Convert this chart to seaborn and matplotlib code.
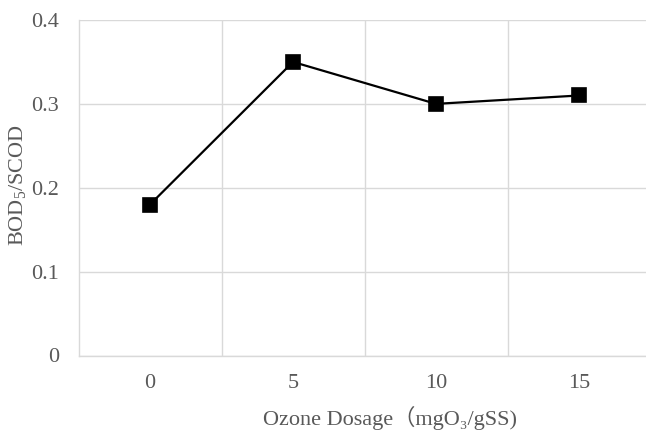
import matplotlib
matplotlib.use("Agg")
import matplotlib.pyplot as plt
import seaborn as sns
import pandas as pd
from matplotlib.ticker import FixedLocator

categories = ["0", "5", "10", "15"]
values = [0.18, 0.35, 0.30, 0.31]
yticks = [0, 0.1, 0.2, 0.3, 0.4]
ytick_labels = ["0", "0.1", "0.2", "0.3", "0.4"]
xlabel = "Ozone Dosage（mgO₃/gSS)"
ylabel = r"BOD$_5$/SCOD"

sns.set_theme(style="white")
fonts = ["Liberation Serif", "DejaVu Serif", "Noto Sans CJK SC"]
plt.rcParams["font.family"] = fonts
plt.rcParams["mathtext.default"] = "regular"

text_color = "#595959"
grid_color = "#d9d9d9"

df = pd.DataFrame({"dose": categories, "ratio": values})

fig = plt.figure(figsize=(6.46, 4.34), dpi=100)
ax = fig.add_axes([78.5 / 646, 1 - 355.5 / 434, 572 / 646, 335.5 / 434])

sns.pointplot(data=df, x="dose", y="ratio", order=categories, color="black",
              markers="s", markersize=9.5, linewidth=1.6, ax=ax, errorbar=None)

ax.set_xlim(-0.5, 3.5)
ax.set_ylim(0, 0.4)
ax.set_yticks(yticks)
ax.set_yticklabels(ytick_labels)
ax.xaxis.set_minor_locator(FixedLocator([0.5, 1.5, 2.5]))
ax.grid(False)
ax.yaxis.grid(True, color=grid_color, linewidth=1.0)
ax.xaxis.grid(True, which="minor", color=grid_color, linewidth=1.0)
for item in ax.get_lines():
    item.set_zorder(5)
ax.set_axisbelow(True)

for side in ["top", "right"]:
    ax.spines[side].set_visible(False)
for side in ["left", "bottom"]:
    ax.spines[side].set_color(grid_color)
    ax.spines[side].set_linewidth(1.0)

ax.tick_params(axis="both", which="both", length=0, labelsize=16, colors=text_color)
ax.tick_params(axis="y", pad=14)
ax.tick_params(axis="x", pad=13)
ax.set_xlabel("")
ax.set_ylabel("")

fig.text(390 / 646, 1 - 418 / 434, xlabel, ha="center", va="center",
         fontsize=16, color=text_color, family=fonts)
fig.text(18 / 646, 1 - 184.5 / 434, ylabel, ha="center", va="center",
         rotation=90, fontsize=16, color=text_color, family="Liberation Serif")

fig.savefig("out.png", dpi=100)
